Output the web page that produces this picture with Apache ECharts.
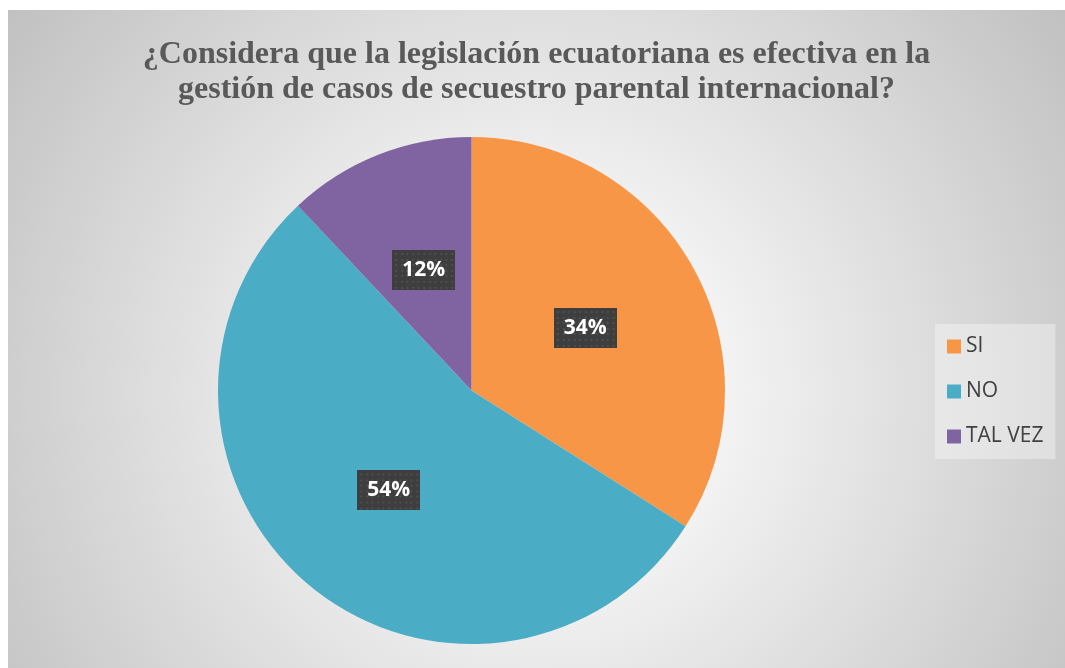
<!DOCTYPE html>
<html>
<head>
<meta charset="utf-8">
<script src="https://cdn.jsdelivr.net/npm/echarts@6/dist/echarts.min.js"></script>
<style>
    html, body { margin: 0; padding: 0; background: #fff; }
    #chart {
        position: absolute;
        left: 8px;
        top: 10px;
        width: 1057px;
        height: 658px;
    }
</style>
</head>
<body>
<div id="chart"></div>
<script>
// datos del gráfico
const titleText = "¿Considera que la legislación ecuatoriana es efectiva en la\ngestión de casos de secuestro parental internacional?";
const categories = ["SI", "NO", "TAL VEZ"];
const values = [34, 54, 12];
const colors = ["#F79646", "#4BACC6", "#8064A2"];

// fondo punteado de las etiquetas
const makeDots = (w, h) => {
    const c = document.createElement("canvas");
    c.width = w;
    c.height = h;
    const ctx = c.getContext("2d");
    ctx.fillStyle = "#3e3e3e";
    ctx.fillRect(0, 0, w, h);
    ctx.fillStyle = "#4f4f4f";
    for (let y = 3; y < h; y += 5.6) {
        for (let x = 3; x < w; x += 5.6) {
            ctx.fillRect(Math.round(x), Math.round(y), 2, 2);
        }
    }
    return c;
};
const dots = makeDots(63, 40);

const chart = echarts.init(document.getElementById("chart"));

const option = {
    animation: false,
    backgroundColor: {
        type: "radial",
        x: 0.5,
        y: 0.58,
        r: 1,
        colorStops: [
            { offset: 0, color: "#ffffff" },
            { offset: 0.3, color: "#f2f2f2" },
            { offset: 1, color: "#c0c0c0" },
        ],
    },
    title: {
        text: titleText,
        left: "center",
        top: 22,
        textStyle: {
            fontFamily: "Liberation Serif",
            fontWeight: "bold",
            fontSize: 32,
            lineHeight: 35,
            color: "#595959",
        },
    },
    legend: {
        orient: "vertical",
        left: 927,
        top: 314,
        padding: [12, 12, 12, 12],
        backgroundColor: "rgba(255,255,255,0.35)",
        itemWidth: 14,
        itemHeight: 14,
        itemGap: 24,
        icon: "rect",
        data: categories,
        textStyle: {
            fontFamily: "Open Sans",
            fontSize: 21,
            color: "#404040",
        },
    },
    series: [
        {
            type: "pie",
            center: [463.5, 380.5],
            radius: 253.5,
            startAngle: 90,
            clockwise: true,
            avoidLabelOverlap: false,
            silent: true,
            labelLine: { show: false },
            label: {
                show: true,
                position: "inside",
                formatter: p => `${p.value}%`,
                fontFamily: "Open Sans",
                fontWeight: "bold",
                fontSize: 21,
                color: "#ffffff",
                width: 63,
                height: 40,
                lineHeight: 40,
                align: "center",
                backgroundColor: { image: dots },
                shadowBlur: 7,
                shadowColor: "rgba(0,0,0,0.45)",
                shadowOffsetX: 3,
                shadowOffsetY: 4,
            },
            data: categories.map((name, i) => ({
                name,
                value: values[i],
                itemStyle: { color: colors[i] },
            })),
        },
    ],
};

chart.setOption(option);
</script>
</body>
</html>
